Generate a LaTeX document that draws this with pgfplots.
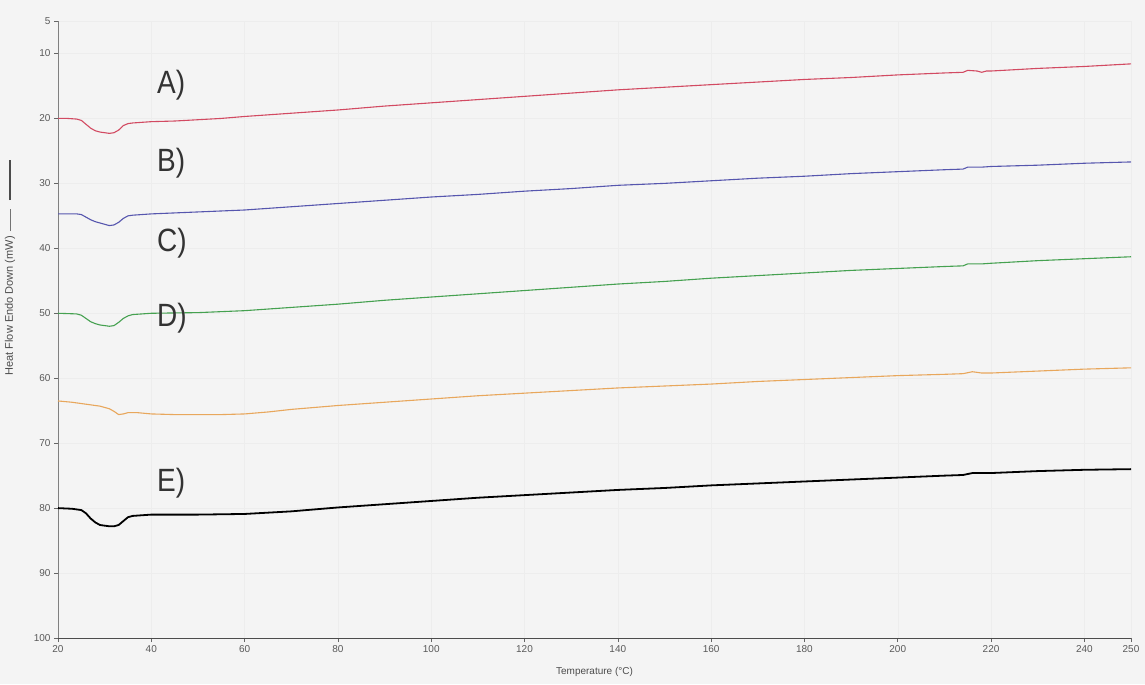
\documentclass[border=0pt]{standalone}
\usepackage{fontspec}
\setmainfont{Liberation Sans}
\usepackage{graphicx}
\usepackage{pgfplots}
\pgfplotsset{compat=1.18}
\usetikzlibrary{backgrounds}

\definecolor{dscred}{HTML}{D24A62}
\definecolor{dscblue}{HTML}{5656AE}
\definecolor{dscgreen}{HTML}{45A150}
\definecolor{dscorange}{HTML}{E8A75C}
\definecolor{bg}{HTML}{F4F4F4}

\begin{document}
\begin{tikzpicture}
\begin{axis}[
  name=ax,
  scale only axis, width=1073pt, height=617pt,
  xmin=20, xmax=250, ymin=5, ymax=100, y dir=reverse,
  xtick={20,40,...,240,250}, ytick={5,10,20,...,100},
  axis x line*=bottom, axis y line*=left,
  x axis line style={draw=black!70, line width=0.9pt, -},
  y axis line style={draw=black!50, line width=0.9pt, -},
  tick align=outside, major tick length=4pt,
  every tick/.style={black!60, line width=0.6pt},
  minor x tick num=3, minor y tick num=1, minor tick length=0pt,
  grid=both,
  major grid style={black!7, line width=0.4pt},
  minor grid style={black!5, line width=0.3pt},
  /pgf/number format/assume math mode=true,
  tick label style={font=\fontsize{10}{10}\selectfont, text=black!65},
  xlabel={Temperature (°C)},
  xlabel style={at={(axis description cs:0.5,0)}, anchor=center, yshift=-34pt,
    font=\fontsize{10}{10}\selectfont, text=black!70},
  ylabel={Heat Flow Endo Down (mW)\hspace{5pt}\textcolor{black!55}{\rule[0.35ex]{22pt}{0.7pt}}\hspace{9pt}\rule[0.3ex]{40pt}{2pt}},
  ylabel style={at={(axis description cs:-0.0447,0.6)}, anchor=center,
    font=\fontsize{11}{11}\selectfont, text=black!70},
  clip=false,
]
% A) red
\addplot[dscred, line width=1.1pt] coordinates {
(20,20.0) (22,20.0) (24,20.1) (25,20.3) (26,20.9) (27,21.5) (28,21.9) (29,22.1)
(30,22.2) (31,22.3) (32,22.2) (33,21.8) (34,21.1) (35,20.8) (36,20.7) (38,20.6)
(40,20.5) (45,20.4) (50,20.2) (55,20.0) (60,19.7) (70,19.2) (80,18.7) (90,18.1)
(100,17.6) (110,17.1) (120,16.6) (130,16.1) (140,15.6) (150,15.2) (160,14.8)
(170,14.4) (180,14.0) (190,13.7) (200,13.3) (210,13.0) (214,12.9) (215,12.6)
(217,12.7) (218,12.9) (219,12.7) (220,12.7) (230,12.3) (240,12.0) (250,11.6)
};
% B) blue
\addplot[dscblue, line width=1.1pt] coordinates {
(20,34.7) (24,34.7) (25,34.8) (26,35.2) (27,35.6) (28,35.9) (29,36.1) (30,36.3)
(31,36.5) (32,36.4) (33,36.0) (34,35.4) (35,35.0) (36,34.9) (38,34.8) (40,34.7)
(50,34.4) (60,34.1) (70,33.6) (80,33.1) (90,32.6) (100,32.1) (110,31.7)
(120,31.2) (130,30.8) (140,30.3) (150,30.0) (160,29.6) (170,29.2) (180,28.9)
(190,28.5) (200,28.2) (210,27.9) (214,27.8) (215,27.5) (218,27.5) (220,27.4)
(230,27.2) (240,26.9) (250,26.7)
};
% C) green
\addplot[dscgreen, line width=1.1pt] coordinates {
(20,50.0) (24,50.1) (25,50.3) (26,50.8) (27,51.3) (28,51.6) (29,51.8) (30,51.9)
(31,52.0) (32,51.9) (33,51.4) (34,50.8) (35,50.4) (36,50.2) (38,50.1) (40,50.0)
(50,49.9) (60,49.6) (70,49.1) (80,48.6) (90,48.0) (100,47.5) (110,47.0)
(120,46.5) (130,46.0) (140,45.5) (150,45.1) (160,44.6) (170,44.2) (180,43.8)
(190,43.4) (200,43.1) (210,42.8) (214,42.7) (215,42.4) (218,42.4) (220,42.3)
(230,41.9) (240,41.6) (250,41.3)
};
% D) orange
\addplot[dscorange, line width=1.1pt] coordinates {
(20,63.5) (23,63.7) (26,64.0) (29,64.3) (31,64.7) (32,65.1) (33,65.6) (34,65.5)
(35,65.3) (37,65.3) (40,65.5) (45,65.6) (50,65.6) (55,65.6) (60,65.5) (65,65.2)
(70,64.8) (80,64.2) (90,63.7) (100,63.2) (110,62.7) (120,62.3) (130,61.9)
(140,61.5) (150,61.2) (160,60.9) (170,60.5) (180,60.2) (190,59.9) (200,59.6)
(210,59.4) (214,59.3) (216,59.0) (218,59.2) (220,59.2) (230,58.9) (240,58.6)
(250,58.4)
};
% E) black
\addplot[black, line width=1.8pt] coordinates {
(20,80.0) (23,80.1) (25,80.3) (26,80.8) (27,81.6) (28,82.2) (29,82.6) (30,82.7)
(31,82.8) (32,82.8) (33,82.6) (34,82.0) (35,81.4) (36,81.2) (38,81.1) (40,81.0)
(50,81.0) (60,80.9) (70,80.5) (80,79.9) (90,79.4) (100,78.9) (110,78.4)
(120,78.0) (130,77.6) (140,77.2) (150,76.9) (160,76.5) (170,76.2) (180,75.9)
(190,75.6) (200,75.3) (210,75.0) (214,74.9) (216,74.6) (220,74.6) (230,74.3)
(240,74.1) (250,74.0)
};
\begin{scope}[every node/.style={anchor=west, text=black!80,
    font=\fontsize{28}{28}\selectfont}]
\node at (axis cs:40.5,14.9) {\scalebox{1}[1.15]{A)}};
\node at (axis cs:40.5,26.9) {\scalebox{1}[1.15]{B)}};
\node at (axis cs:40.5,39.2) {\scalebox{1}[1.15]{C)}};
\node at (axis cs:40.5,50.7) {\scalebox{1}[1.15]{D)}};
\node at (axis cs:40.5,76.1) {\scalebox{1}[1.15]{E)}};
\end{scope}
\end{axis}
\pgfresetboundingbox
\begin{scope}[on background layer]
\fill[bg] ([xshift=-58pt,yshift=-46pt]ax.south west) rectangle ([xshift=14pt,yshift=21pt]ax.north east);
\end{scope}
\end{tikzpicture}
\end{document}
